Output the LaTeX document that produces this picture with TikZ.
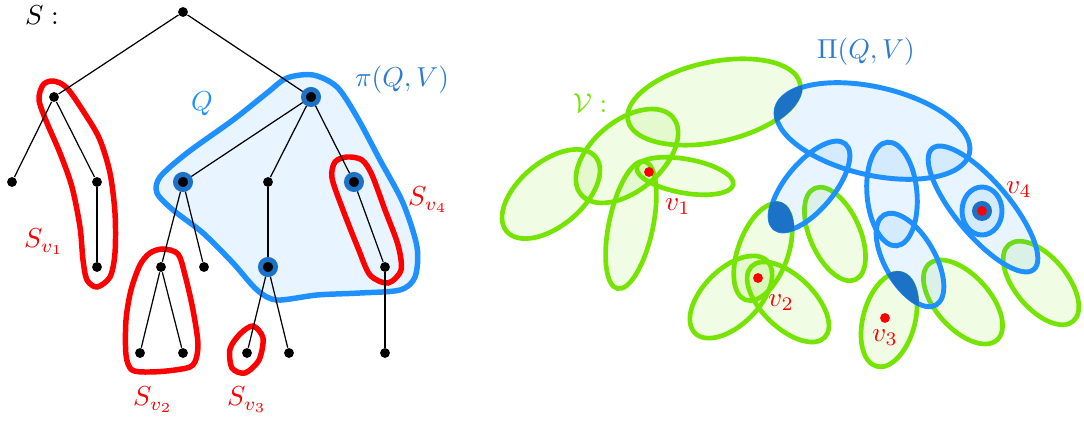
\documentclass[tikz,border=0pt]{standalone}
\usepackage{amsmath,amssymb}
\usepackage{xcolor}
\definecolor{setred}{HTML}{FF0000}
\definecolor{qblue}{HTML}{1E90FF}
\definecolor{qdark}{HTML}{1C72C6}
\definecolor{labelblue}{HTML}{2A7BD2}
\definecolor{vgreen}{HTML}{74E400}
\tikzset{
  vertex/.style={circle,fill=black,inner sep=0pt,minimum size=3.6pt},
  qvertex/.style={vertex,draw=qdark,line width=1.8pt,minimum size=5.5pt},
  treeedge/.style={draw=black,line width=0.45pt},
  subtree/.style={draw=setred,line width=2pt},
  region/.style={draw=qblue,line width=2pt,fill=qblue,fill opacity=0.1},
  hedge/.style={draw=vgreen,line width=1.7pt,fill=vgreen,fill opacity=0.1},
  qedge/.style={draw=qblue,line width=1.8pt,fill=qblue,fill opacity=0.1},
  attach/.style={fill=qdark},
  point/.style={circle,fill=setred,inner sep=0pt,minimum size=3.6pt},
  ptlabel/.style={text=setred,inner sep=1pt}
}

\begin{document}
\begin{tikzpicture}[x=0.365pt,y=0.365pt]
  \useasboundingbox (0,0) rectangle (1084,-421);

  % ---- left: the tree S ----
  \draw[region] plot[smooth cycle] coordinates {(287,-78) (313,-75) (337,-87)
    (357,-117) (380,-160) (403,-203) (417,-247) (415,-277) (400,-290) (360,-293)
    (317,-295) (277,-300) (257,-290) (233,-263) (203,-233) (173,-210) (157,-193)
    (160,-177) (187,-153) (233,-120) (267,-93)};
  \draw[subtree] plot[smooth cycle] coordinates {(67,-88) (87,-117) (100,-140)
    (110,-173) (115,-213) (115,-253) (110,-277) (97,-287) (87,-280) (83,-260)
    (80,-227) (72,-187) (60,-153) (47,-123) (39,-100) (43,-85) (53,-81)};
  \draw[subtree] plot[smooth cycle] coordinates {(163,-249) (178,-254) (185,-275)
    (193,-310) (198,-345) (193,-365) (175,-370) (150,-372) (132,-370) (126,-355)
    (126,-320) (131,-290) (140,-265) (150,-253)};
  \draw[subtree] plot[smooth cycle] coordinates {(253,-326) (263,-338) (259,-360)
    (245,-373) (232,-368) (230,-349) (240,-334)};
  \draw[subtree] plot[smooth cycle] coordinates {(347,-157) (362,-160) (372,-175)
    (385,-210) (398,-245) (401,-270) (388,-283) (370,-275) (358,-248) (343,-210)
    (332,-178) (335,-162)};

  \node[vertex] (r) at (183,-12) {};
  \node[vertex] (a) at (54,-97) {};
  \node[qvertex] (b) at (311,-97) {};
  \node[vertex] (a1) at (12,-182) {};
  \node[vertex] (a2) at (97,-182) {};
  \node[vertex] (a21) at (97,-267) {};
  \node[qvertex] (b1) at (183,-182) {};
  \node[vertex] (b2) at (268,-182) {};
  \node[qvertex] (b3) at (354,-182) {};
  \node[vertex] (b11) at (161,-267) {};
  \node[vertex] (b12) at (204,-267) {};
  \node[vertex] (b111) at (140,-353) {};
  \node[vertex] (b112) at (183,-353) {};
  \node[qvertex] (b21) at (268,-267) {};
  \node[vertex] (b211) at (247,-353) {};
  \node[vertex] (b212) at (289,-353) {};
  \node[vertex] (b31) at (385,-267) {};
  \node[vertex] (b311) at (385,-353) {};
  \foreach \u/\w in {r/a,r/b,a/a1,a/a2,a2/a21,b/b1,b/b2,b/b3,b1/b11,b1/b12,
      b11/b111,b11/b112,b2/b21,b21/b211,b21/b212,b3/b31,b31/b311}
    \draw[treeedge] (\u) -- (\w);

  \node (lblS) at (42,-15) {$S:$};
  \node[text=qblue] (lblQ) at (202,-104) {$Q$};
  \node[text=labelblue] (lblpi) at (402,-80) {$\pi(Q,V)$};
  \node[text=setred] (lblS1) at (44,-242) {$S_{v_1}$};
  \node[text=setred] (lblS2) at (153,-400) {$S_{v_2}$};
  \node[text=setred] (lblS3) at (247,-400) {$S_{v_3}$};
  \node[text=setred] (lblS4) at (428,-200) {$S_{v_4}$};

  % ---- right: the hypergraph V ----
  \foreach \cx/\cy/\rx/\ry/\ang in {714/102/88/40/12, 627/156/60/35/40,
      551/194/58/32/40, 631/225/65/22/78, 685/176/49/17/-10, 763/252/51/25/70,
      835/234/50/25/-66, 731/297/51/28/45, 788/302/51/26/-44, 889/320/48/26/75,
      963/302/51/27/-48, 1041/283/50/26/-50}
    \filldraw[hedge] (\cx,-\cy) ellipse [x radius=\rx, y radius=\ry, rotate=\ang];
  \foreach \cx/\cy/\rx/\ry/\ang in {873/131/99/44/-13, 810/186/55/24/50,
      892/194/52/25/95, 910/260/52/25/-60, 983/209/79/27/-50}
    \filldraw[qedge] (\cx,-\cy) ellipse [x radius=\rx, y radius=\ry, rotate=\ang];

  % dark attachments
  \begin{scope}
    \clip (873,-131) ellipse [x radius=101, y radius=46, rotate=-13];
    \fill[attach] (714,-102) ellipse [x radius=90, y radius=42, rotate=12];
  \end{scope}
  \begin{scope}
    \clip (810,-186) ellipse [x radius=57, y radius=26, rotate=50];
    \fill[attach] (763,-252) ellipse [x radius=53, y radius=27, rotate=70];
  \end{scope}
  \begin{scope}
    \clip (910,-260) ellipse [x radius=54, y radius=27, rotate=-60];
    \fill[attach] (889,-320) ellipse [x radius=50, y radius=28, rotate=75];
  \end{scope}

  \filldraw[qedge] (982,-211) ellipse [x radius=20, y radius=24];
  \fill[qdark] (982,-211) circle [radius=10];

  \node[point] (v1) at (649,-172) {};
  \node[point] (v2) at (758,-278) {};
  \node[point] (v3) at (885,-318) {};
  \node[point] (v4) at (982,-211) {};
  \node[ptlabel] (v1lbl) at (678,-207) {$v_1$};
  \node[ptlabel] (v2lbl) at (781,-303) {$v_2$};
  \node[ptlabel] (v3lbl) at (885,-338) {$v_3$};
  \node[ptlabel] (v4lbl) at (1019,-190) {$v_4$};

  \node[text=vgreen] (lblV) at (590,-103) {$\mathcal{V}:$};
  \node[text=labelblue] (lblPi) at (866,-52) {$\Pi(Q,V)$};
\end{tikzpicture}
\end{document}
